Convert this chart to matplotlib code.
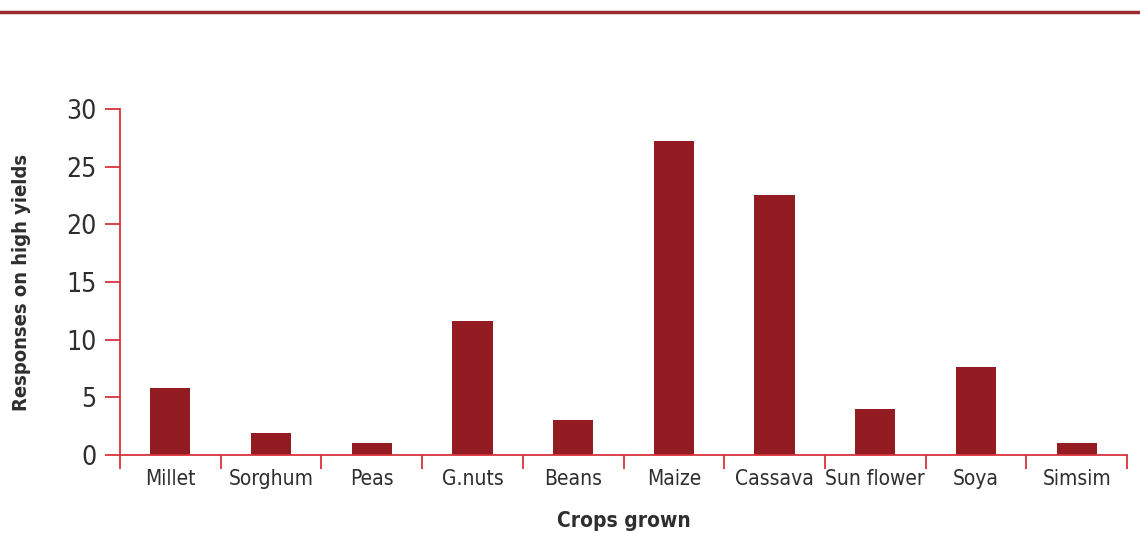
import matplotlib
matplotlib.use("Agg")
import matplotlib.pyplot as plt
import numpy as np

categories = ["Millet", "Sorghum", "Peas", "G.nuts", "Beans", "Maize", "Cassava", "Sun flower", "Soya", "Simsim"]
values = [5.8, 1.9, 1.0, 11.6, 3.0, 27.2, 22.5, 4.0, 7.6, 1.0]
yticks = [0, 5, 10, 15, 20, 25, 30]

plt.rcParams['font.family'] = ['DejaVu Sans']
plt.rcParams['font.stretch'] = 'condensed'

fig = plt.figure(figsize=(11.4, 5.34), dpi=100)
ax = fig.add_axes([120/1140, 1-455/534, 1007/1140, 346/534])

x = np.arange(len(categories))
ax.bar(x, values, width=0.4, color="#931c22", zorder=2)

ax.set_xlim(-0.5, len(categories) - 0.5)
ax.set_ylim(0, 30)
spine_c = "#d9333c"
for s in ["top", "right"]:
    ax.spines[s].set_visible(False)
for s in ["left", "bottom"]:
    ax.spines[s].set_color(spine_c)
    ax.spines[s].set_linewidth(1.3)

txt = "#2e2e2e"
ax.set_yticks(yticks)
ax.set_yticklabels([str(v) for v in yticks])
ax.tick_params(axis='y', direction='out', length=11, width=1.3, color=spine_c,
               labelsize=19, labelcolor=txt, pad=6)
ax.set_xticks(x)
ax.set_xticklabels(categories)
ax.tick_params(axis='x', which='major', length=0, labelsize=15, labelcolor=txt, pad=10)
ax.set_xticks(np.arange(-0.5, len(categories)), minor=True)
ax.tick_params(axis='x', which='minor', direction='out', length=10, width=1.3, color=spine_c)

ax.set_xlabel("Crops grown", fontsize=15, fontweight='bold', color=txt, labelpad=16)
ax.set_ylabel("Responses on high yields", fontsize=14.5, fontweight='bold', color=txt, labelpad=25)

fig.add_artist(plt.Line2D([0, 1], [1-12/534, 1-12/534], color="#9b2a30", linewidth=2.5,
                          transform=fig.transFigure))

fig.savefig("out.png", dpi=100, facecolor="white")
